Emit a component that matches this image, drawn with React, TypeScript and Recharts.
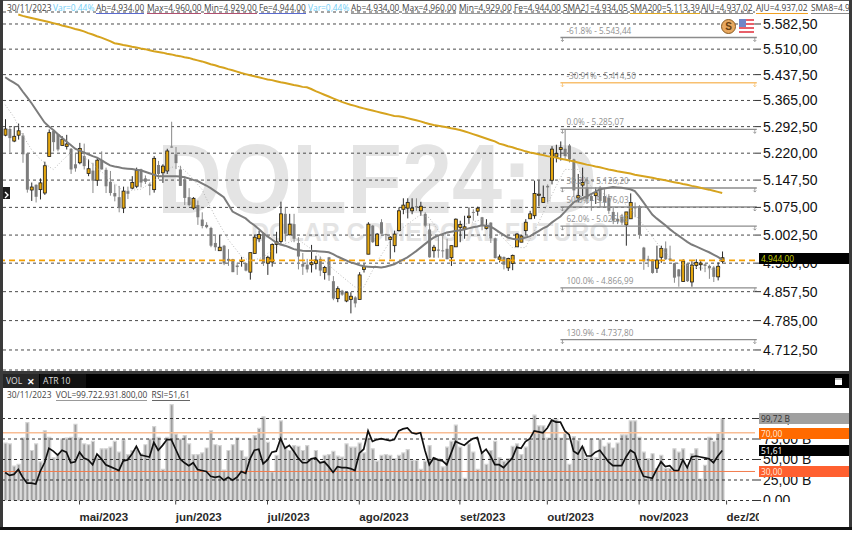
import { Bar, CartesianGrid, ComposedChart, Line, ReferenceLine, XAxis, YAxis } from "recharts";

const opens = [
  5269,5286,5253,5269,5268,5219,5121,5135,5122,5113,
  5211,5281,5272,5241,5238,5232,5190,5194,5212,5165,
  5173,5147,5201,5175,5143,5113,5102,5073,5118,5126,
  5131,5176,5152,5136,5122,5188,5167,5172,5238,5217,
  5176,5149,5102,5073,5081,5043,5029,5021,4982,4962,
  4975,4941,4940,4924,4936,4930,4907,4955,4993,5007,
  4930,4933,4978,4986,5058,5003,5031,4982,4928,4926,
  4926,4929,4941,4906,4945,4884,4840,4860,4834,4838,
  4843,4838,4914,4953,5027,4975,5036,5005,4991,4975,
  5014,5070,5073,5066,5078,5066,5058,5017,4962,4965,
  4963,4967,4944,4972,5022,5018,5048,5063,5065,5049,
  5020,5035,4994,4940,4946,4918,4929,4972,4984,5014,
  5045,5053,5107,5088,5132,5147,5210,5230,5232,5241,
  5203,5100,5134,5128,5105,5106,5128,5105,5101,5063,
  5045,5050,5029,5045,5075,5078,4970,4941,4939,4917,
  4945,4968,4942,4930,4914,4883,4929,4882,4924,4926,
  4927,4923,4919,4895,4934,
];
const closes = [
  5286,5261,5266,5281,5217,5122,5129,5103,5140,5186,
  5276,5250,5230,5258,5245,5176,5179,5233,5185,5178,
  5146,5201,5176,5131,5113,5104,5073,5118,5111,5141,
  5173,5141,5143,5132,5206,5164,5185,5226,5236,5193,
  5132,5100,5081,5099,5049,5026,5023,4975,4971,4971,
  4929,4936,4907,4920,4937,4911,4957,4997,5004,4930,
  4945,4978,4985,5058,5006,5031,4993,4947,4921,4914,
  4931,4938,4911,4919,4899,4840,4865,4850,4855,4846,
  4828,4900,4921,5031,4984,5005,5006,5002,4997,5005,
  5066,5081,5088,5073,5075,5078,5027,4945,4971,4962,
  4961,4940,4975,5044,5030,5024,5052,5061,5073,5026,
  5025,4994,4943,4946,4926,4942,4950,5005,5000,5036,
  5058,5112,5110,5101,5128,5231,5219,5235,5212,5203,
  5120,5106,5141,5097,5092,5114,5092,5088,5066,5040,
  5038,5035,5063,5088,5073,5003,4935,4936,4905,4938,
  4968,4940,4938,4893,4896,4935,4884,4925,4932,4930,
  4923,4917,4895,4922,4944,
];
const highs = [
  5313,5292,5294,5301,5275,5221,5141,5136,5152,5197,
  5285,5285,5273,5266,5270,5234,5220,5248,5246,5203,
  5194,5208,5225,5181,5172,5136,5132,5130,5130,5158,
  5181,5178,5160,5141,5212,5199,5190,5232,5306,5237,
  5186,5158,5126,5102,5093,5062,5036,5024,5002,5002,
  4977,4966,4941,4931,4946,4931,4957,5004,5014,5010,
  4949,4981,5011,5090,5075,5058,5058,4997,4956,4941,
  4977,4949,4947,4923,4946,4897,4871,4862,4856,4856,
  4846,4907,4928,5036,5029,5008,5044,5006,5000,5014,
  5075,5099,5099,5099,5099,5090,5062,5032,4977,5000,
  5002,4993,4975,5046,5040,5053,5075,5070,5077,5050,
  5044,5036,4996,4952,4947,4944,4952,5008,5002,5044,
  5066,5146,5146,5133,5136,5239,5243,5252,5284,5245,
  5205,5164,5181,5155,5110,5128,5132,5123,5110,5075,
  5062,5058,5063,5112,5088,5081,4972,4949,4940,4975,
  4975,4986,4975,4931,4915,4940,4930,4935,4940,4935,
  4929,4926,4923,4932,4960,
];
const lows = [
  5266,5222,5250,5257,5194,5114,5092,5088,5096,5108,
  5211,5225,5225,5241,5230,5164,5170,5190,5176,5158,
  5113,5132,5176,5113,5106,5091,5062,5060,5097,5123,
  5126,5128,5137,5107,5114,5150,5140,5164,5235,5177,
  5132,5081,5078,5069,5029,5020,5020,4971,4962,4962,
  4925,4923,4907,4900,4921,4909,4888,4955,4984,4923,
  4900,4921,4955,4980,4986,5002,4984,4914,4900,4906,
  4906,4914,4897,4888,4885,4836,4831,4847,4831,4803,
  4818,4838,4906,4953,4982,4975,5006,4988,4941,4958,
  5012,5057,5046,5057,5066,5053,5023,4944,4944,4944,
  4944,4940,4923,4972,4984,4993,5032,5040,5053,5015,
  5017,4982,4942,4932,4914,4910,4912,4972,4984,5003,
  5045,5045,5078,5088,5088,5136,5195,5200,5205,5195,
  5105,5088,5105,5084,5066,5084,5075,5075,5058,5031,
  5031,5029,4975,5045,5049,4993,4913,4920,4903,4905,
  4931,4938,4936,4880,4870,4882,4882,4870,4915,4911,
  4907,4890,4882,4886,4929,
];
const sma21 = [
  5430,5422,5415,5407,5390,5374,5358,5340,5322,5304,
  5293,5283,5272,5262,5252,5242,5232,5227,5222,5217,
  5212,5208,5201,5194,5187,5184,5182,5179,5178,5177,
  5175,5174,5170,5166,5162,5158,5158,5158,5158,5158,
  5157,5155,5152,5148,5145,5139,5133,5126,5118,5110,
  5102,5083,5064,5058,5052,5046,5036,5028,5018,5008,
  4999,4991,4983,4978,4975,4971,4966,4964,4962,4961,
  4961,4961,4960,4959,4958,4953,4947,4942,4937,4932,
  4929,4925,4922,4921,4920,4920,4919,4921,4924,4927,
  4933,4939,4945,4953,4961,4970,4979,4988,4996,5001,
  5005,5009,5011,5013,5015,5017,5020,5023,5025,5028,
  5027,5025,5018,5010,5003,4996,4993,4991,4993,4996,
  4999,5006,5013,5020,5025,5035,5043,5051,5063,5076,
  5088,5094,5099,5104,5110,5116,5123,5125,5127,5129,
  5128,5127,5125,5123,5118,5104,5088,5072,5056,5046,
  5037,5028,5018,5009,5001,4993,4985,4978,4973,4968,
  4963,4958,4952,4946,4939,
];
const sma200 = [
  null,null,null,5610,5606,5603,5600,5597,5594,5591,
  5588,5585,5582,5578,5575,5572,5568,5565,5561,5556,
  5552,5547,5543,5538,5533,5527,5525,5522,5520,5517,
  5515,5512,5510,5507,5504,5502,5500,5497,5495,5492,
  5490,5487,5485,5481,5478,5475,5471,5467,5464,5460,
  5457,5453,5450,5446,5442,5439,5436,5433,5430,5427,
  5424,5422,5419,5416,5414,5411,5408,5406,5403,5402,
  5397,5391,5386,5381,5376,5371,5366,5361,5357,5353,
  5350,5346,5343,5340,5337,5334,5331,5328,5325,5322,
  5321,5319,5316,5313,5310,5307,5303,5300,5297,5295,
  5293,5291,5288,5286,5283,5280,5276,5272,5268,5264,
  5260,5256,5252,5246,5243,5239,5236,5232,5229,5225,
  5222,5220,5217,5215,5212,5210,5208,5205,5203,5200,
  5198,5195,5192,5189,5187,5184,5182,5179,5176,5174,
  5171,5169,5167,5165,5162,5160,5158,5156,5154,5151,
  5149,5147,5144,5142,5140,5137,5135,5132,5130,5127,
  5124,5122,5119,5116,5113,
];
// SMA8 read only where the dotted line can be seen
const sma8Index = [0,2,4,6,8,10,11,14,16,20,24,27,31,34,38,40,42,45,48,51,54,56,59,62,67,71,75,80,82,85,88,91,95,97,100,105,109,112,116,119,122,126,128,131,134,137,142,145,149,153,158,162,164];
const sma8Values = [5353,5319,5269,5230,5204,5184,5176,5211,5230,5190,5150,5118,5123,5145,5182,5184,5163,5123,5051,4991,4948,4935,4945,4973,4991,4958,4915,4869,4869,4932,4986,5022,5056,5048,4999,5030,5043,5017,4970,4970,5035,5131,5176,5176,5131,5110,5083,5043,4983,4932,4919,4914,4919];
const sma8GreenIndex = [11,14,16,27,31,34,59];
const volumes = [
  70,69,42,44,76,95,61,69,47,85,
  77,52,57,75,76,77,93,76,69,68,
  72,52,63,63,65,72,59,74,56,61,
  63,57,68,75,90,77,38,77,117,81,
  75,79,69,56,56,58,64,85,68,67,
  37,61,68,76,61,53,75,79,88,102,
  71,35,55,97,66,61,67,66,61,67,
  51,61,47,55,56,60,54,53,69,65,
  65,70,58,76,63,48,55,56,55,51,
  55,58,62,49,49,38,48,67,52,51,
  41,65,72,92,65,27,69,59,38,57,
  44,61,72,52,48,51,66,69,56,65,
  74,104,91,91,76,99,99,76,82,44,
  78,73,65,52,75,52,75,66,70,64,
  70,80,80,97,97,77,59,51,57,39,
  55,39,39,63,59,63,41,57,63,26,
  43,77,72,82,99.72,
];
const rsi = [
  29,26,27,32,24,18,18,17,30,39,
  54,51,47,52,50,39,40,50,44,42,
  37,48,43,37,35,33,31,41,42,48,
  56,47,46,45,60,52,57,63,63,53,
  43,39,36,39,32,31,30,25,24,25,
  21,24,21,24,30,28,43,52,53,38,
  42,50,51,64,54,57,51,44,39,39,
  43,44,39,40,35,29,35,34,34,33,
  31,49,53,72,61,63,64,63,62,63,
  72,74,75,70,69,70,52,37,44,42,
  41,37,49,61,59,57,61,64,65,49,
  53,46,37,37,34,39,44,55,54,61,
  64,72,71,70,75,83,81,81,72,68,
  51,48,56,46,46,50,52,46,40,36,
  36,36,45,52,49,35,25,24,23,32,
  40,35,36,31,31,42,34,45,46,45,
  44,43,39,46,51.61,
];

const priceTicks = [5582.5,5510,5437.5,5365,5292.5,5220,5147.5,5075,5002.5,4930,4857.5,4785,4712.5];
const volumeTicks = [0,25,50,75,100];
const monthIndex = [17,39,60,81,104,124,145,165];
const monthLabels = ["mai/2023","jun/2023","jul/2023","ago/2023","set/2023","out/2023","nov/2023","dez/20"];
const fibPrices = [5543.44,5414.5,5285.07,5126.2,5076.03,5025.86,4866.99,4737.8];
const fibLabels = ["-61.8% - 5.543,44","-30.91% - 5.414,50","0.0% - 5.285,07","38.2% - 5.126,20","50.0% - 5.076,03","62.0% - 5.025,86","100.0% - 4.866,99","130.9% - 4.737,80"];
const ajuste = 4937.02;

const SLOTS = 172;
const FONT = "'Liberation Sans', Arial, sans-serif";
const UI = "'Open Sans', sans-serif";

const rows = Array.from({ length: SLOTS }, (_, i) => {
  const on = i < opens.length;
  const g = sma8Index.indexOf(i);
  return {
    i,
    up: on ? closes[i] >= opens[i] : false,
    wick: on ? [lows[i], highs[i]] : null,
    body: on ? [Math.min(opens[i], closes[i]), Math.max(opens[i], closes[i])] : null,
    sma21: on ? sma21[i] : null,
    sma200: on ? sma200[i] : null,
    sma8: g >= 0 ? sma8Values[g] : null,
    sma8g: sma8GreenIndex.includes(i) ? sma8Values[g] : null,
    vol: on ? volumes[i] : null,
    rsi: on ? rsi[i] : null,
  };
});

function WickShape(p: any) {
  if (!p.payload.wick || !(p.height >= 0)) return null;
  return <rect x={p.x} y={p.y} width={p.width} height={p.height} fill={p.payload.up ? "#2b2b2b" : "#8a8a8a"} />;
}

function BodyShape(p: any) {
  if (!p.payload.body || !(p.height >= 0)) return null;
  return p.payload.up ? (
    <rect x={p.x} y={p.y} width={p.width} height={Math.max(p.height, 1)} fill="#e5a70f" stroke="#1d1d1d" strokeWidth={0.8} />
  ) : (
    <rect x={p.x} y={p.y} width={p.width} height={Math.max(p.height, 1)} fill="#7d7d7d" />
  );
}

function MonthTick({ x, y, payload }: any) {
  const label = monthLabels[monthIndex.indexOf(payload.value)];
  return (
    <text x={x} y={y + 14} fontFamily={FONT} fontSize={11.5} fontWeight={700} fill="#2a2a2a">
      {label}
    </text>
  );
}

function fibShape(label: string, color: string) {
  return (p: any) => {
    const x2 = p.x2 + 4;
    return (
      <g>
        <line x1={p.x1} x2={x2} y1={p.y1} y2={p.y2} stroke={color} strokeWidth={1.4} />
        <path d={`M${p.x1 + 2} ${p.y1}v4m-1.5 -1.5l1.5 1.5l1.5 -1.5M${x2 - 2} ${p.y1}v4m-1.5 -1.5l1.5 1.5l1.5 -1.5`} fill="none" stroke={color} strokeWidth={0.8} />
        <text x={p.x1 + 6} y={p.y1 - 4} fontFamily={UI} fontSize={8.2} fill="#8f8f8f">
          {label}
        </text>
      </g>
    );
  };
}

const headerItems: [number, string, string, string][] = [
  [7, "30/11/2023", "#444", ""],
  [53, "Var=0,44%", "#6fcdf5", ""],
  [96, "Ab=4.934,00", "#444", "#5a6ad0"],
  [147, "Max=4.960,00", "#444", "#b05070"],
  [204, "Min=4.929,00", "#444", "#b05070"],
  [259, "Fe=4.944,00", "#444", "#5a6ad0"],
  [308, "Var=0,44%", "#6fcdf5", ""],
  [351, "Ab=4.934,00", "#444", "#999"],
  [402, "Max=4.960,00", "#444", "#999"],
  [459, "Min=4.929,00", "#444", "#999"],
  [514, "Fe=4.944,00", "#444", "#999"],
  [563, "SMA21=4.934,05", "#444", "#888"],
  [630, "SMA200=5.113,39", "#444", "#e0a820"],
  [701, "AJU=4.937,02", "#444", "#888"],
  [756, "AJU=4.937,02", "#444", "#f0a020"],
  [811, "SMA8=4.9", "#444", "#888"],
];

const badges: [number, number, string, string, string][] = [
  [253, 11, "#000", "#c8d400", "4.944,00"],
  [413, 11, "#a0a0a0", "#333", "99,72 B"],
  [427.5, 11, "#ff6a00", "#ffe8d8", "70,00"],
  [445, 11, "#000", "#fff", "51,61"],
  [466, 11, "#ff6030", "#ffe8d8", "30,00"],
];

const box = (left: number, top: number, width: number, height: number, background: string): React.CSSProperties => ({
  position: "absolute",
  left,
  top,
  width,
  height,
  background,
});

export default function App() {
  return (
    <div style={{ position: "absolute", left: 0, top: 0, width: 855, height: 534, background: "#fff", overflow: "hidden" }}>
      {/* watermark */}
      <div style={{ position: "absolute", left: 157, top: 128, fontFamily: FONT, fontWeight: 700, fontSize: 90, color: "#e4e4e4", transform: "scaleY(1.1)", whiteSpace: "nowrap" }}>
        DOLF24:D
      </div>
      <div style={{ position: "absolute", left: 251, top: 218, fontFamily: FONT, fontWeight: 700, fontSize: 25, color: "#e4e4e4", whiteSpace: "nowrap" }}>
        DOLAR COMERCIAL FUTURO
      </div>

      <div style={{ position: "absolute", left: 0, top: 0 }}>
        <ComposedChart width={855} height={372} data={rows} margin={{ top: 12, right: 0, bottom: 2, left: 3 }} barGap={0} barCategoryGap={0}>
          <CartesianGrid horizontal vertical={false} stroke="#4a4a4a" strokeDasharray="3 3" />
          <XAxis dataKey="i" hide scale="band" />
          <XAxis dataKey="i" xAxisId="wick" hide scale="band" />
          <YAxis
            orientation="right"
            width={100}
            scale="log"
            domain={[4663.7, 5617.4]}
            allowDataOverflow
            ticks={priceTicks}
            interval={0}
            tickSize={6}
            tickMargin={2}
            axisLine={false}
            tickLine={{ stroke: "#333" }}
            tick={{ fontFamily: FONT, fontSize: 14, fill: "#111" }}
            tickFormatter={(v: number) => v.toLocaleString("de-DE", { minimumFractionDigits: 2, maximumFractionDigits: 2 })}
          />
          <ReferenceLine y={ajuste} stroke="#f5a000" strokeWidth={1.6} strokeDasharray="6 4" />
          {fibPrices.map((p, n) => (
            <ReferenceLine
              key={p}
              segment={[{ x: 127, y: p }, { x: 171, y: p }]}
              shape={fibShape(fibLabels[n], n === 1 ? "#f8c070" : "#8c8c8c")}
            />
          ))}
          <Bar dataKey="wick" xAxisId="wick" barSize={1} shape={WickShape} isAnimationActive={false} />
          <Bar dataKey="body" barSize={3} shape={BodyShape} isAnimationActive={false} />
          <Line dataKey="sma8" stroke="#a8a8a8" strokeWidth={0.8} strokeDasharray="1 2" dot={false} connectNulls isAnimationActive={false} />
          <Line dataKey="sma8g" stroke="#6fbf5a" strokeWidth={1} strokeDasharray="1 4" dot={false} isAnimationActive={false} />
          <Line dataKey="sma21" stroke="#7c7c7c" strokeWidth={2} dot={false} isAnimationActive={false} />
          <Line dataKey="sma200" stroke="#d6a31e" strokeWidth={2} dot={false} isAnimationActive={false} />
        </ComposedChart>
      </div>

      <div style={{ position: "absolute", left: 0, top: 387 }}>
        <ComposedChart width={855} height={140} data={rows} margin={{ top: 1, right: 0, bottom: 0, left: 3 }} barGap={0} barCategoryGap={0}>
          <XAxis
            dataKey="i"
            scale="band"
            height={26.5}
            ticks={monthIndex}
            interval={0}
            axisLine={false}
            tickSize={4}
            tickLine={{ stroke: "#444", strokeWidth: 1 }}
            tick={MonthTick}
          />
          <YAxis
            yAxisId="vol"
            orientation="right"
            width={100}
            domain={[0, 137.2]}
            allowDataOverflow
            ticks={volumeTicks}
            interval={0}
            tickSize={6}
            tickMargin={2}
            axisLine={false}
            tickLine={{ stroke: "#333" }}
            tick={{ fontFamily: FONT, fontSize: 14, fill: "#111" }}
            tickFormatter={(v: number) => (v === 0 ? "0,00" : `${v},00 B`)}
          />
          <YAxis yAxisId="rsi" hide domain={[0, 116.3]} allowDataOverflow />
          <Bar yAxisId="vol" dataKey="vol" barSize={3} fill="#9e9e9e" stroke="#d4d4d4" strokeWidth={1.2} isAnimationActive={false} />
          {volumeTicks.map((v) => (
            <ReferenceLine key={v} yAxisId="vol" y={v} stroke="#333" strokeDasharray="3 3" />
          ))}
          <ReferenceLine yAxisId="rsi" y={70} stroke="#f9bd94" strokeWidth={1.6} />
          <ReferenceLine yAxisId="rsi" y={30} stroke="#f27c4d" strokeWidth={1} />
          <Line yAxisId="rsi" dataKey="rsi" stroke="#111" strokeWidth={1.7} dot={false} isAnimationActive={false} />
        </ComposedChart>
      </div>

      {/* clips the foot of "0,00" */}
      <div style={box(759, 502, 90, 25, "#fff")} />

      {headerItems.map(([left, text, color, line]) => (
        <span key={left} style={{ position: "absolute", left, top: 2, fontFamily: UI, fontSize: 8.4, lineHeight: "11px", color, borderBottom: line ? `1px solid ${line}` : "none", whiteSpace: "nowrap" }}>
          {text}
        </span>
      ))}

      {/* S coin and US flag */}
      <div style={{ position: "absolute", left: 721, top: 19, width: 13, height: 13, borderRadius: "50%", background: "#e8a860", border: "1px solid #8a5a20", color: "#6a4010", fontFamily: FONT, fontWeight: 700, fontSize: 10, lineHeight: "13px", textAlign: "center" }}>
        S
      </div>
      <div style={{ position: "absolute", left: 739, top: 19, width: 15, height: 16, background: "repeating-linear-gradient(#e8606a 0 2px, #fff 2px 4px)" }}>
        <div style={box(0, 0, 7, 8, "#6f86c8")} />
      </div>

      {badges.map(([top, h, bg, fg, text]) => (
        <div key={text} style={{ position: "absolute", left: 759, top, width: 90, height: h, background: bg, color: fg, fontFamily: UI, fontSize: 8.4, lineHeight: `${h}px`, paddingLeft: 2, boxSizing: "border-box" }}>
          {text}
        </div>
      ))}

      {/* window frame */}
      <div style={box(0, 0, 852, 1, "#555")} />
      <div style={box(0, 0, 3, 530, "#3a3a3a")} />
      <div style={box(849, 0, 3, 530, "#3a3a3a")} />
      <div style={box(0, 371, 852, 3, "#3a3a3a")} />
      <div style={box(3, 374, 846, 14, "#000")} />
      <div style={box(0, 527, 852, 3, "#111")} />
      <div style={box(3, 187, 7, 12, "#1c1c1c")}>
        <svg width={7} height={12}><path d="M2 3l3 3l-3 3" fill="none" stroke="#fff" strokeWidth={1.4} /></svg>
      </div>
      <div style={box(3, 374, 36, 14, "#262626")} />
      <div style={box(40, 374, 46, 14, "#111")} />
      <div style={{ position: "absolute", left: 6, top: 375, fontFamily: UI, fontSize: 8.6, lineHeight: "13px", color: "#ddd" }}>VOL</div>
      <div style={{ position: "absolute", left: 27, top: 375, fontFamily: UI, fontWeight: 700, fontSize: 9, lineHeight: "13px", color: "#fff" }}>✕</div>
      <div style={{ position: "absolute", left: 43, top: 375, fontFamily: UI, fontSize: 8.6, lineHeight: "13px", color: "#ddd" }}>ATR 10</div>
      <div style={{ ...box(835, 378, 7, 7, "#fff"), borderTop: "2px solid #bbb", boxSizing: "border-box" }} />
      <div style={{ position: "absolute", left: 7, top: 389, fontFamily: UI, fontSize: 8.4, lineHeight: "11px", color: "#444", whiteSpace: "nowrap" }}>
        30/11/2023 <span style={{ borderBottom: "1px solid #999", marginLeft: 2 }}>VOL=99.722.931.800,00</span> <span style={{ borderBottom: "1px solid #666", marginLeft: 2 }}>RSI=51,61</span>
      </div>
    </div>
  );
}
